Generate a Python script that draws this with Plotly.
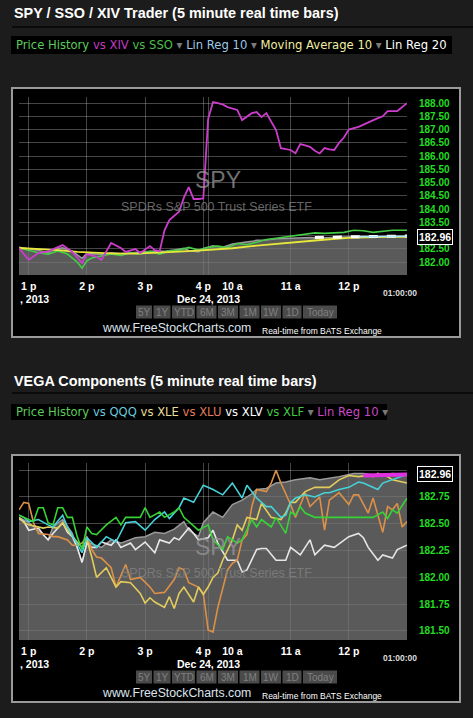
import plotly.graph_objects as go

W, H = 473, 718

# ---- time axis: 5-minute bar index (0 = 12:50p Dec 23, 80 = 1:00p Dec 24)
tick_bars = [2, 14, 26, 38, 44, 56, 68]
tick_text = ["1 p", "2 p", "3 p", "4 p", "10 a", "11 a", "12 p"]
grid_bars = [0, 2, 14, 26, 38, 39, 56, 68, 80]

top_price_ticks = [182.0, 182.5, 183.0, 183.5, 184.0, 184.5, 185.0, 185.5,
                   186.0, 186.5, 187.0, 187.5, 188.0]
bottom_price_ticks = [181.5, 181.75, 182.0, 182.25, 182.5, 182.75, 183.0]
last_price = 182.96

# ---- SPY price history (grey mountain, same in both panels)
spy_bars = [0, 2, 4, 6, 7, 9, 11, 13, 14, 17, 19, 21, 24, 26, 28, 30, 32, 34, 35, 37,
            38, 40, 42, 44, 46, 48, 49, 51, 53, 55, 57, 60, 62, 66, 69, 71, 74, 77, 80]
spy_vals = [182.56, 182.51, 182.44, 182.35, 182.47, 182.54, 182.41, 182.14, 182.33, 182.28,
            182.35, 182.32, 182.37, 182.38, 182.42, 182.41, 182.45, 182.52, 182.44, 182.38,
            182.51, 182.61, 182.56, 182.68, 182.72, 182.78, 182.82, 182.83, 182.88, 182.89,
            182.91, 182.93, 182.91, 182.94, 182.97, 182.97, 182.95, 182.97, 182.96]

# ---- top panel: SPY / SSO / XIV Trader
xiv_bars = [0, 2, 4, 6, 9, 11, 13, 14, 16, 17, 19, 21, 22, 24, 25, 27, 28, 29, 30, 31,
            33, 34, 35, 36, 37, 38, 39, 40, 41, 42, 43, 45, 46, 48, 49, 50, 51, 53, 54, 56,
            57, 58, 59, 60, 61, 62, 63, 64, 65, 66, 67, 68, 70, 72, 74, 75, 76, 78, 79, 80]
xiv_vals = [182.53, 182.08, 182.34, 182.40, 182.64, 182.38, 181.96, 182.30, 182.20, 182.08,
            182.72, 182.53, 182.38, 182.49, 182.34, 182.60, 182.45, 182.41, 183.20, 183.58,
            183.90, 184.43, 184.83, 184.38, 184.38, 184.40, 187.40, 188.04, 188.00, 187.95,
            187.85, 187.74, 187.36, 187.62, 187.66, 187.47, 187.62, 186.98, 186.30, 186.23,
            186.11, 186.45, 186.40, 186.35, 186.20, 186.10, 186.30, 186.25, 186.23, 186.50,
            186.70, 187.00, 187.10, 187.28, 187.43, 187.50, 187.70, 187.70, 187.85, 188.00]

sso_bars = [0, 2, 4, 6, 8, 10, 12, 13, 14, 15, 17, 19, 21, 23, 25, 27, 29, 31, 33, 35,
            37, 39, 41, 43, 45, 47, 49, 51, 53, 55, 57, 59, 61, 63, 65, 67, 69, 71, 73, 75,
            77, 80]
sso_vals = [182.53, 182.45, 182.35, 182.30, 182.42, 182.30, 182.00, 181.77, 182.05, 182.15,
            182.22, 182.30, 182.25, 182.35, 182.30, 182.40, 182.30, 182.42, 182.45, 182.55,
            182.45, 182.55, 182.60, 182.55, 182.70, 182.65, 182.75, 182.85, 182.90, 182.95,
            183.00, 183.05, 183.10, 183.08, 183.10, 183.12, 183.20, 183.18, 183.12, 183.15,
            183.20, 183.20]

ma10_bars = [0, 4, 8, 12, 16, 20, 24, 28, 32, 36, 40, 44, 48, 52, 56, 60, 64, 68, 72, 76, 80]
ma10_vals = [182.53, 182.50, 182.45, 182.38, 182.34, 182.32, 182.32, 182.34, 182.38, 182.42,
             182.46, 182.52, 182.60, 182.67, 182.74, 182.80, 182.86, 182.91, 182.94, 182.95,
             182.95]

linreg20_bars = [61, 80]
linreg20_vals = [182.93, 182.98]
linreg10_bars = [70, 80]
linreg10_vals = [182.95, 182.97]

# ---- bottom panel: VEGA Components
qqq_bars = [0, 1, 2, 4, 6, 7, 9, 10, 13, 14, 16, 18, 20, 22, 24, 26, 28, 30, 31, 33,
            34, 36, 38, 40, 42, 44, 46, 47, 49, 51, 52, 54, 55, 56, 57, 59, 61, 63, 64, 66,
            68, 70, 71, 72, 74, 75, 77, 78, 80]
qqq_vals = [182.58, 182.56, 182.52, 182.54, 182.49, 182.47, 182.58, 182.47, 182.23, 182.37,
            182.28, 182.38, 182.33, 182.51, 182.52, 182.44, 182.54, 182.61, 182.55, 182.65,
            182.74, 182.70, 182.86, 182.82, 182.77, 182.88, 182.74, 182.86, 182.74, 182.66,
            182.66, 182.56, 182.58, 182.70, 182.74, 182.77, 182.75, 182.79, 182.79, 182.82,
            182.84, 182.89, 182.88, 182.86, 182.82, 182.88, 182.91, 182.93, 182.96]

xle_bars = [0, 1, 2, 4, 5, 6, 8, 9, 10, 12, 13, 14, 15, 16, 18, 20, 21, 23, 25, 26,
            27, 28, 30, 31, 32, 33, 34, 36, 37, 38, 39, 40, 41, 42, 43, 44, 45, 46, 47, 49,
            50, 51, 52, 54, 55, 56, 57, 59, 61, 64, 66, 68, 70, 72, 73, 74, 76, 77, 80]
xle_vals = [182.56, 182.51, 182.49, 182.47, 182.46, 182.47, 182.46, 182.51, 182.44, 182.33,
            182.28, 182.35, 182.19, 182.00, 182.09, 181.91, 181.96, 181.95, 181.85, 181.76,
            181.81, 181.77, 181.72, 181.82, 181.71, 181.85, 181.91, 181.77, 181.91, 181.84,
            181.91, 182.00, 182.04, 182.16, 182.25, 182.35, 182.49, 182.44, 182.56, 182.54,
            182.69, 182.63, 182.56, 182.54, 182.60, 182.70, 182.70, 182.80, 182.84, 182.84,
            182.91, 182.95, 182.94, 182.95, 182.94, 182.97, 182.94, 182.91, 182.88]

xlu_bars = [0, 1, 2, 3, 4, 6, 7, 8, 10, 11, 12, 13, 14, 15, 16, 17, 19, 20, 22, 23,
            25, 27, 28, 30, 32, 33, 34, 35, 37, 38, 39, 40, 41, 42, 43, 44, 45, 46, 47, 48,
            49, 51, 52, 53, 54, 56, 57, 59, 60, 62, 63, 64, 66, 68, 69, 70, 72, 73, 75, 76,
            77, 78, 79, 80]
xlu_vals = [182.63, 182.70, 182.69, 182.51, 182.41, 182.40, 182.38, 182.38, 182.35, 182.30,
            182.30, 182.32, 182.38, 182.26, 182.19, 182.18, 182.09, 181.91, 182.12, 181.98,
            182.00, 181.91, 181.85, 181.86, 181.98, 182.09, 182.07, 181.95, 181.91, 181.85,
            181.51, 181.49, 181.72, 181.90, 182.07, 182.13, 182.16, 182.35, 182.40, 182.66,
            182.82, 182.80, 182.88, 183.00, 182.88, 182.68, 182.56, 182.79, 182.66, 182.75,
            182.44, 182.72, 182.79, 182.68, 182.77, 182.77, 182.60, 182.74, 182.42, 182.66,
            182.63, 182.69, 182.47, 182.52]

xlv_bars = [0, 1, 2, 4, 5, 6, 7, 9, 10, 11, 12, 13, 14, 15, 16, 17, 19, 20, 21, 23,
            24, 26, 28, 29, 31, 32, 33, 35, 36, 37, 39, 40, 41, 43, 44, 45, 46, 47, 49, 50,
            51, 53, 55, 56, 58, 60, 61, 63, 65, 67, 68, 70, 71, 72, 74, 75, 77, 78, 80]
xlv_vals = [182.55, 182.52, 182.44, 182.46, 182.40, 182.35, 182.41, 182.51, 182.42, 182.38,
            182.28, 182.14, 182.32, 182.28, 182.28, 182.33, 182.30, 182.35, 182.28, 182.32,
            182.26, 182.33, 182.23, 182.35, 182.32, 182.37, 182.35, 182.46, 182.41, 182.35,
            182.37, 182.44, 182.32, 182.16, 182.16, 182.16, 182.05, 182.07, 182.26, 182.27,
            182.27, 182.16, 182.16, 182.28, 182.21, 182.35, 182.21, 182.30, 182.28, 182.35,
            182.38, 182.41, 182.37, 182.28, 182.16, 182.21, 182.18, 182.26, 182.30]

xlf_bars = [0, 1, 3, 4, 5, 6, 7, 8, 9, 10, 11, 12, 13, 14, 15, 16, 18, 20, 21, 22,
            23, 25, 26, 27, 29, 30, 32, 33, 34, 35, 37, 39, 40, 42, 43, 45, 46, 48, 49, 50,
            52, 53, 55, 56, 57, 58, 59, 61, 66, 70, 73, 75, 76, 77, 78, 80]
xlf_vals = [182.58, 182.56, 182.52, 182.65, 182.65, 182.51, 182.49, 182.65, 182.65, 182.56,
            182.56, 182.38, 182.26, 182.47, 182.41, 182.40, 182.49, 182.56, 182.49, 182.56,
            182.56, 182.56, 182.65, 182.56, 182.61, 182.56, 182.61, 182.65, 182.56, 182.52,
            182.44, 182.49, 182.35, 182.26, 182.38, 182.32, 182.35, 182.54, 182.47, 182.54,
            182.47, 182.56, 182.41, 182.61, 182.58, 182.66, 182.60, 182.56, 182.56, 182.56,
            182.56, 182.61, 182.55, 182.63, 182.60, 182.74]

vega_linreg_bars = [71, 80]
vega_linreg_vals = [182.95, 182.96]

range_buttons = ["5Y", "1Y", "YTD", "6M", "3M", "1M", "1W", "1D", "Today"]
range_button_w = [16, 17, 23, 20, 20, 20, 20, 19, 34]

GRID = "rgba(255,255,255,0.27)"
FONT = "Liberation Sans"


def X(px):
    return px / W


def Y(py):
    return 1 - py / H


fig = go.Figure()
shapes = []
annotations = []


def note(text, x, y, size, color, family=FONT, **kw):
    # paper-placed text, centred on the given pixel position unless told otherwise
    kw.setdefault("xanchor", "center")
    kw.setdefault("yanchor", "middle")
    kw.setdefault("xref", "paper")
    kw.setdefault("yref", "paper")
    annotations.append(dict(text=text, x=X(x), y=Y(y), showarrow=False,
                            font=dict(family=family, size=size, color=color), **kw))


def box(x0, y0, x1, y1, fill, line=None, layer="below"):
    shapes.append(dict(type="rect", xref="paper", yref="paper",
                       x0=X(x0), x1=X(x1), y0=Y(y1), y1=Y(y0), fillcolor=fill,
                       line=line or dict(width=0), layer=layer))


def mountain(xa, ya):
    fig.add_trace(go.Scatter(
        x=spy_bars, y=spy_vals, xaxis=xa, yaxis=ya, mode="lines",
        line=dict(color="#9a9a9a", width=1.5), fill="tozeroy",
        fillcolor="rgba(120,120,120,0.75)", hoverinfo="skip"))


def line(xs, ys, color, xa, ya, width=1.6, dash=None):
    fig.add_trace(go.Scatter(
        x=xs, y=ys, xaxis=xa, yaxis=ya, mode="lines",
        line=dict(color=color, width=width, dash=dash)))


# top panel traces
mountain("x", "y")
line(sso_bars, sso_vals, "#44cc44", "x", "y")
line(ma10_bars, ma10_vals, "#e8e83a", "x", "y", width=1.8)
line(xiv_bars, xiv_vals, "#cc3dcc", "x", "y", width=1.8)
line(linreg20_bars, linreg20_vals, "#ffffff", "x", "y", width=3, dash="dash")
line(linreg10_bars, linreg10_vals, "#aee8ff", "x", "y", width=1.5)

# bottom panel traces
mountain("x2", "y2")
line(xlv_bars, xlv_vals, "#e6e6e6", "x2", "y2")
line(xlu_bars, xlu_vals, "#dc9048", "x2", "y2")
line(xle_bars, xle_vals, "#e2cc5c", "x2", "y2")
line(qqq_bars, qqq_vals, "#45d2d8", "x2", "y2")
line(xlf_bars, xlf_vals, "#36d236", "x2", "y2")
line(vega_linreg_bars, vega_linreg_vals, "#e030e0", "x2", "y2", width=4)


def xaxis(anchor):
    return dict(
        domain=[X(19), X(407)], range=[0, 80], anchor=anchor,
        tickmode="array", tickvals=tick_bars, ticktext=tick_text,
        showgrid=False, zeroline=False, showline=False, ticks="",
        ticklabelstandoff=3,
        tickfont=dict(family=FONT, size=10.5, color="white", weight="bold"),
        minor=dict(tickmode="array", tickvals=grid_bars, showgrid=True,
                   gridcolor=GRID, gridwidth=1, ticks=""),
    )


def yaxis(top, bottom, rng, ticks, anchor):
    return dict(
        domain=[Y(bottom), Y(top)], range=rng, side="right", anchor=anchor,
        tickmode="array", tickvals=ticks, tickformat=".2f",
        showgrid=True, gridcolor=GRID, gridwidth=1, zeroline=False, showline=False,
        ticks="outside", ticklen=9, tickcolor="rgba(0,0,0,0)",
        tickfont=dict(family=FONT, size=10, color="#22dd22", weight="bold"),
    )


for (title, ttl_y, sep_y, leg_y0, leg_y1, leg_x1, leg_html, frame_y0, frame_y1,
     plot_bottom, yref) in [
    ("SPY / SSO / XIV Trader (5 minute real time bars)", 13, 27, 36, 54, 452,
     '<span style="color:#5ccc5c">Price History</span>'
     '<span style="color:#c23cc2"> vs XIV</span>'
     '<span style="color:#4cbf4c"> vs SSO</span>'
     '<span style="color:#7a7a7a"> ▾ </span>'
     '<span style="color:#9cc8e8">Lin Reg 10</span>'
     '<span style="color:#7a7a7a"> ▾ </span>'
     '<span style="color:#f0eea0">Moving Average 10</span>'
     '<span style="color:#7a7a7a"> ▾ </span>'
     '<span style="color:#ffffff">Lin Reg 20</span>',
     88, 337, 275, "y"),
    ("VEGA Components (5 minute real time bars)", 381, 393, 404, 420, 387,
     '<span style="color:#5ccc5c">Price History</span>'
     '<span style="color:#6cc8dc"> vs QQQ</span>'
     '<span style="color:#e8dc98"> vs XLE</span>'
     '<span style="color:#e07c5c"> vs XLU</span>'
     '<span style="color:#ffffff"> vs XLV</span>'
     '<span style="color:#44c844"> vs XLF</span>'
     '<span style="color:#7a7a7a"> ▾ </span>'
     '<span style="color:#c84ac8">Lin Reg 10</span>'
     '<span style="color:#7a7a7a"> ▾</span>',
     455, 702, 640, "y2"),
]:
    # title, separator, legend strip, chart frame
    note(f"<b>{title}</b>", 12, ttl_y, 14.4, "white", xanchor="left")
    shapes.append(dict(type="line", xref="paper", yref="paper", x0=X(12), x1=1,
                       y0=Y(sep_y), y1=Y(sep_y), line=dict(color="#050505", width=1.5),
                       layer="below"))
    box(11, leg_y0, leg_x1, leg_y1, "black")
    annotations.append(dict(
        text=leg_html, x=X(14), y=Y((leg_y0 + leg_y1) / 2), xref="paper", yref="paper",
        xanchor="left", yanchor="middle", showarrow=False,
        font=dict(family="DejaVu Sans", size=11.6)))
    box(12, frame_y0, 460, frame_y1, "black", line=dict(color="#9a9a9a", width=2))

    # watermark
    mid = (frame_y0 + plot_bottom) / 2
    note("SPY", 218, mid - 1, 23, "rgba(150,150,150,0.75)")
    note("SPDRs S&P 500 Trust Series ETF", 216, mid + 25.5, 12.5, "rgba(130,130,130,0.8)")

    # date row and footer
    note("<b>Dec 24, 2013</b>", 208, plot_bottom + 24, 10.5, "white")
    note("<b>, 2013</b>", 18, plot_bottom + 24, 10.5, "white", xanchor="left")
    note("<b>01:00:00</b>", 400, plot_bottom + 18, 8.5, "#dddddd")
    bx = 136
    by = plot_bottom + 37
    for label, bw in zip(range_buttons, range_button_w):
        box(bx, by - 6.5, bx + bw, by + 6.5, "#4a4a4a", layer="above")
        note(label, bx + bw / 2, by, 10, "#808080")
        bx += bw + 1.5
    note("www.FreeStockCharts.com", 176, plot_bottom + 53, 12.3, "#dde4ee")
    note("Real-time from BATS Exchange", 260, plot_bottom + 56, 8.5, "white",
         xanchor="left")

    # last-price box
    annotations.append(dict(
        text=f"<b>{last_price:.2f}</b>", x=X(435), y=last_price, xref="paper", yref=yref,
        xanchor="center", yanchor="middle", showarrow=False, bgcolor="black",
        bordercolor="white", borderwidth=1, borderpad=1,
        font=dict(family=FONT, size=10.5, color="white")))

fig.update_layout(
    width=W, height=H, margin=dict(l=0, r=0, t=0, b=0),
    paper_bgcolor="#1c1c1c", plot_bgcolor="black", showlegend=False,
    xaxis=xaxis("y"),
    yaxis=yaxis(97, 275, [181.51, 188.23], top_price_ticks, "x"),
    xaxis2=xaxis("y2"),
    yaxis2=yaxis(463, 640, [181.416, 183.067], bottom_price_ticks, "x2"),
    shapes=shapes, annotations=annotations,
)

fig.write_html(
    "out.html",
    config={"displayModeBar": False},
    post_script="document.body.style.margin='0';"
                "document.body.style.background='#1c1c1c';",
)
